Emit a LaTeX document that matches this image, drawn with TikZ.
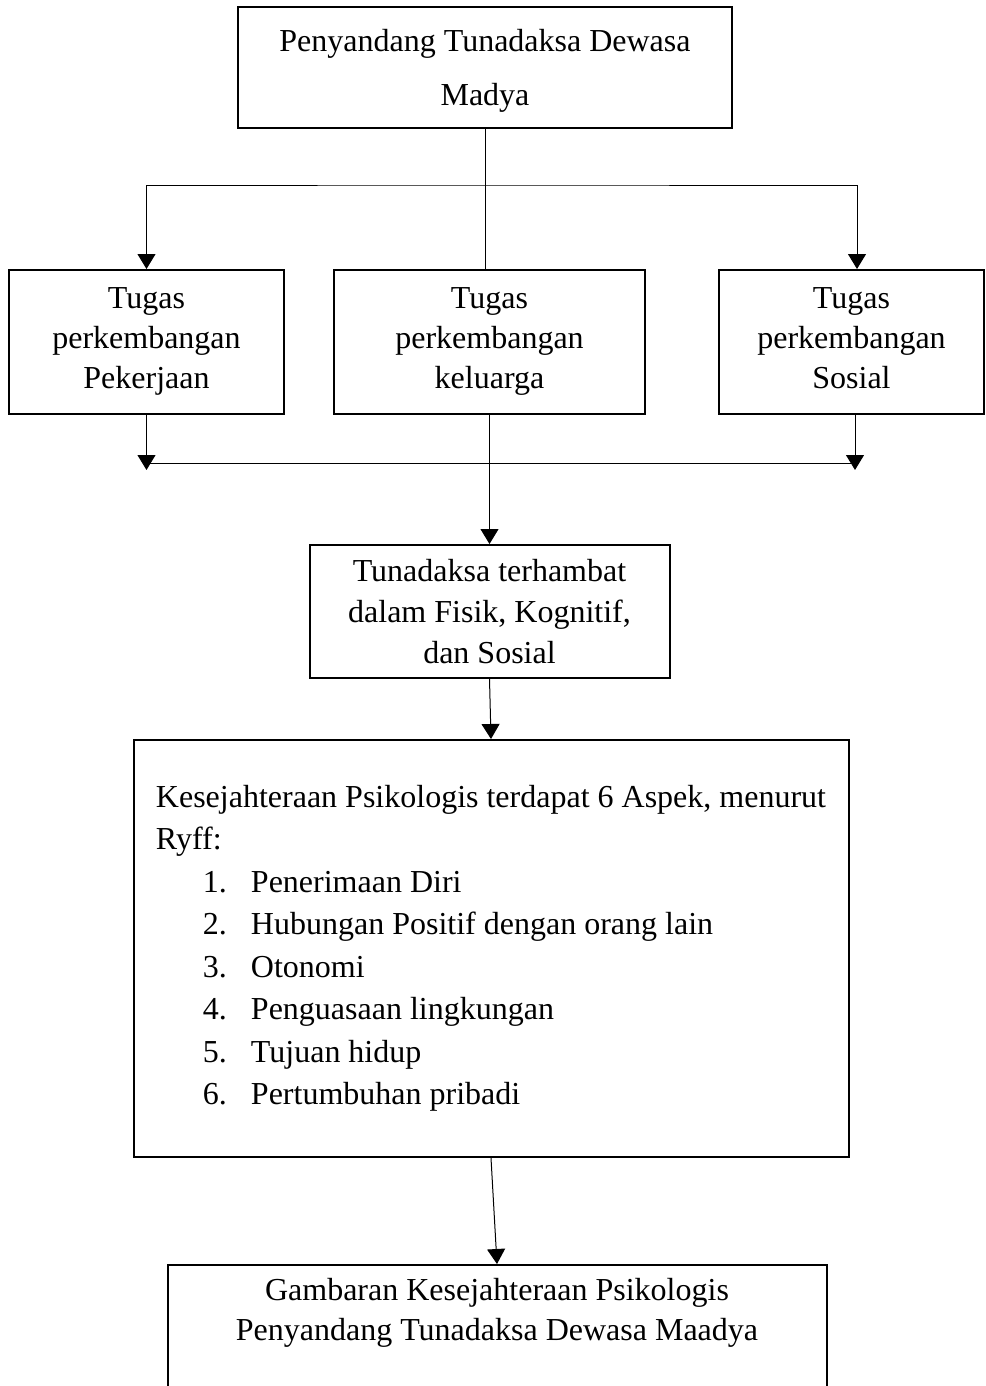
\documentclass[tikz,border=0pt]{standalone}
\usepackage{fontspec}
\setmainfont{Liberation Serif}
\usetikzlibrary{positioning,arrows.meta}

\newcommand{\butir}[2]{\hspace*{23.5pt}\makebox[24pt][l]{#1}#2}

\tikzset{
    kotak/.style={rectangle, draw, line width=1pt, align=center, font=\fontsize{16}{20}\selectfont},
    tugas/.style={kotak, minimum height=72pt, text depth=3.5pt},
    panah/.style={->, line width=0.5pt}
}

\begin{document}
\begin{tikzpicture}[x=0.5pt, y=-0.5pt, >={Triangle[length=7.5pt,width=9pt]}]
    \useasboundingbox (0,0) rectangle (985,1386);

    % Subjek
    \node[kotak, minimum width=247pt, minimum height=60.5pt, text depth=0pt, font=\fontsize{16}{27}\selectfont] at (485,67.5) (madya) {Penyandang Tunadaksa Dewasa\\Madya};

    % Tugas perkembangan
    \node[tugas, minimum width=155.5pt, anchor=north] at ([xshift=2.25pt,yshift=-70pt]madya.south) (keluarga) {Tugas\\perkembangan\\keluarga};
    \node[tugas, minimum width=137.5pt, anchor=north east] at ([xshift=-24pt]keluarga.north west) (kerja) {Tugas\\perkembangan\\Pekerjaan};
    \node[tugas, minimum width=132.5pt, anchor=north west] at ([xshift=36pt]keluarga.north east) (sosial) {Tugas\\perkembangan\\Sosial};

    % Hambatan
    \node[kotak, minimum width=180pt, minimum height=66.5pt, text depth=-3pt, font=\fontsize{16}{20.5}\selectfont, anchor=north] at ([yshift=-64.5pt]keluarga.south) (tuna) {Tunadaksa terhambat\\dalam Fisik, Kognitif,\\dan Sosial};

    % Aspek Ryff
    \node[kotak, align=left, minimum width=357.5pt, minimum height=208.5pt, font=\fontsize{16}{21.25}\selectfont, anchor=north] at ([xshift=0.75pt,yshift=-30pt]tuna.south) (aspek) {Kesejahteraan Psikologis terdapat 6 Aspek, menurut\\Ryff:\\
        \butir{1.}{Penerimaan Diri}\\
        \butir{2.}{Hubungan Positif dengan orang lain}\\
        \butir{3.}{Otonomi}\\
        \butir{4.}{Penguasaan lingkungan}\\
        \butir{5.}{Tujuan hidup}\\
        \butir{6.}{Pertumbuhan pribadi}};

    % Hasil
    \node[kotak, minimum width=329.5pt, inner ysep=6.5pt, text depth=70pt, anchor=north] at ([xshift=3pt,yshift=-53pt]aspek.south) (gambaran) {Gambaran Kesejahteraan Psikologis\\Penyandang Tunadaksa Dewasa Maadya};

    % Percabangan
    \coordinate (cabang) at ([yshift=-28pt]madya.south);
    \draw[line width=0.5pt] (madya.south) -- (madya.south |- keluarga.north);
    \draw[<->, line width=0.5pt] (kerja.north) |- (cabang) -| ([xshift=2.75pt]sosial.north);

    % Penggabungan
    \coordinate (gabungKiri) at ([yshift=-27.5pt]kerja.south);
    \coordinate (gabungKanan) at ([xshift=1.75pt,yshift=-27.5pt]sosial.south);
    \draw[panah] (kerja.south) -- (gabungKiri);
    \draw[panah] ([xshift=1.75pt]sosial.south) -- (gabungKanan);
    \draw[line width=0.5pt] ([yshift=3.5pt]gabungKiri) -- ([yshift=3.5pt]gabungKanan);

    % Alur ke bawah
    \draw[panah] (keluarga.south) -- (tuna.north);
    \draw[panah] (tuna.south) -- (aspek.north);
    \draw[panah] (aspek.south) -- (gambaran.north);
\end{tikzpicture}
\end{document}
